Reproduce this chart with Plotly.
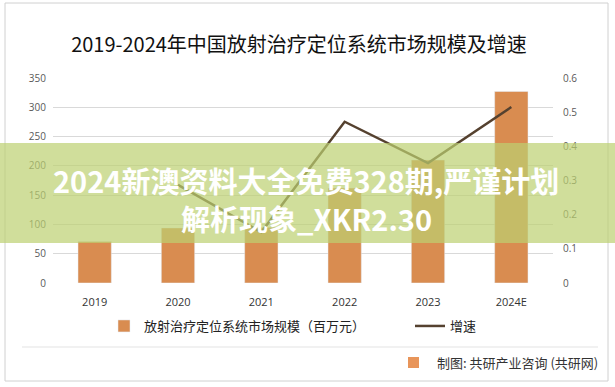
import plotly.graph_objects as go

years = ["2019", "2020", "2021", "2022", "2023", "2024E"]
market_size = [71, 94, 95, 162, 210, 327]
growth = [None, 0.287, 0.149, 0.472, 0.351, 0.515]
left_ticks = [0, 50, 100, 150, 200, 250, 300, 350]
right_ticks = [0, 0.1, 0.2, 0.3, 0.4, 0.5, 0.6]

title_text = "2019-2024年中国放射治疗定位系统市场规模及增速"
bar_name = "放射治疗定位系统市场规模（百万元）"
line_name = "增速"
source_text = "制图: 共研产业咨询 (共研网)"
band_line1 = "2024新澳资料大全免费328期,严谨计划"
band_line2 = "解析现象_XKR2.30"

CJK = "Noto Sans CJK SC"
TICKF = "Open Sans, Noto Sans CJK SC"

fig = go.Figure()
fig.add_trace(go.Bar(
    x=years, y=market_size, name=bar_name, marker_color="#D98C50",
    width=0.4, yaxis="y", legend="legend",
))
fig.add_trace(go.Scatter(
    x=years, y=growth, name=line_name, mode="lines",
    line=dict(color="#55412F", width=2.5), yaxis="y2", legend="legend2",
))

# paper coordinate helpers (plot area: x 53..553, y 78..283 in pixels)
def px_x(p):
    return (p - 53) / 500.0

def px_y(p):
    return (283 - p) / 205.0

shapes = [
    dict(type="rect", xref="paper", yref="paper", x0=px_x(5), x1=px_x(608),
         y0=px_y(381), y1=px_y(3), line=dict(color="#D0D0D0", width=1), layer="below"),
    dict(type="line", xref="paper", yref="paper", x0=px_x(22), x1=px_x(598),
         y0=px_y(347), y1=px_y(347), line=dict(color="#E3E3E3", width=1)),
    dict(type="rect", xref="paper", yref="paper", x0=px_x(408), x1=px_x(419),
         y0=px_y(368), y1=px_y(357), fillcolor="#E8955A", line=dict(width=0)),
    dict(type="rect", xref="paper", yref="paper", x0=px_x(0), x1=px_x(615),
         y0=px_y(243), y1=px_y(143), fillcolor="rgba(188,208,112,0.70)",
         line=dict(width=0), layer="above"),
]

annotations = [
    dict(text=source_text, xref="paper", yref="paper", x=px_x(600), y=px_y(362),
         xanchor="right", yanchor="middle", showarrow=False,
         font=dict(family=CJK, size=13, color="#333333")),
    dict(text="<b>" + band_line1 + "</b>", xref="paper", yref="paper",
         x=px_x(306), y=px_y(180), xanchor="center", yanchor="middle", showarrow=False,
         font=dict(family=CJK, size=29, color="#FFFFFF")),
    dict(text="<b>" + band_line2 + "</b>", xref="paper", yref="paper",
         x=px_x(306), y=px_y(218), xanchor="center", yanchor="middle", showarrow=False,
         font=dict(family=CJK, size=29, color="#FFFFFF")),
]

fig.update_layout(
    width=615, height=387,
    margin=dict(l=53, r=62, t=78, b=104, autoexpand=False),
    paper_bgcolor="white", plot_bgcolor="white",
    title=dict(text=title_text, xref="paper", x=px_x(299), xanchor="center",
               yref="container", y=1 - 45 / 387, yanchor="middle",
               font=dict(family=CJK, size=20, color="#111111")),
    xaxis=dict(type="category", showgrid=False, showline=False, zeroline=False,
               ticks="outside", ticklen=9, tickcolor="rgba(0,0,0,0)",
               tickfont=dict(family=TICKF, size=11, color="#333333")),
    yaxis=dict(range=[0, 350], tickvals=left_ticks, showgrid=True,
               gridcolor="#D9D9D9", gridwidth=1, zeroline=False, showline=False,
               ticklabelstandoff=6,
               tickfont=dict(family=TICKF, size=10, color="#595959")),
    yaxis2=dict(range=[0, 0.6], tickvals=right_ticks, overlaying="y", side="right",
                showgrid=False, zeroline=False, showline=False,
                ticklabelstandoff=9,
                tickfont=dict(family=TICKF, size=10, color="#595959")),
    legend=dict(orientation="h", xref="paper", yref="paper", x=px_x(104),
                xanchor="left", y=px_y(326), yanchor="middle",
                font=dict(family=CJK, size=13, color="#222222"),
                bgcolor="rgba(0,0,0,0)"),
    legend2=dict(orientation="h", xref="paper", yref="paper", x=px_x(410),
                 xanchor="left", y=px_y(326), yanchor="middle",
                 font=dict(family=CJK, size=13, color="#222222"),
                 bgcolor="rgba(0,0,0,0)"),
    shapes=shapes, annotations=annotations,
    showlegend=True, bargap=0.6,
)

fig.write_html("out.html", config={"displayModeBar": False},
               post_script="document.body.style.margin='0';")
